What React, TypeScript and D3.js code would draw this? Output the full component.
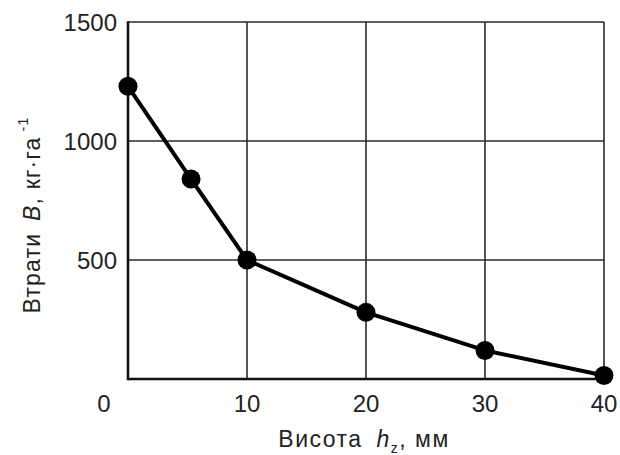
import React, { useEffect, useRef } from 'react';
import * as d3 from 'd3';

// Height of the element, mm
const heights = [0, 5.3, 10, 20, 30, 40];
// Losses B, kg/ha
const losses = [1230, 840, 500, 280, 120, 15];

const xTicks = [0, 10, 20, 30, 40];
const yTicks = [500, 1000, 1500];

const FONT = "Arial, 'Liberation Sans', sans-serif";

const App = () => {
    const ref = useRef<SVGSVGElement | null>(null);

    useEffect(() => {
        const svg = d3.select(ref.current);
        svg.selectAll('*').remove();

        const width = 620;
        const height = 455;
        const margin = { top: 22, right: 16, bottom: 76, left: 128 };

        const x = d3.scaleLinear().domain([0, 40]).range([margin.left, width - margin.right]);
        const y = d3.scaleLinear().domain([0, 1500]).range([height - margin.bottom, margin.top]);

        const g = svg.append('g');

        // grid
        g.selectAll('.vgrid')
            .data(xTicks.filter(d => d > 0))
            .enter()
            .append('line')
            .attr('x1', d => x(d))
            .attr('x2', d => x(d))
            .attr('y1', y(0))
            .attr('y2', y(1500))
            .attr('stroke', '#2a2a2a')
            .attr('stroke-width', 1.6);

        g.selectAll('.hgrid')
            .data(yTicks)
            .enter()
            .append('line')
            .attr('x1', x(0))
            .attr('x2', x(40))
            .attr('y1', d => y(d))
            .attr('y2', d => y(d))
            .attr('stroke', '#2a2a2a')
            .attr('stroke-width', 1.6);

        // left and bottom axes are thicker
        g.append('line')
            .attr('x1', x(0)).attr('x2', x(0))
            .attr('y1', y(0) + 1.3).attr('y2', y(1500) - 0.8)
            .attr('stroke', '#111').attr('stroke-width', 2.6);
        g.append('line')
            .attr('x1', x(0)).attr('x2', x(40) + 0.8)
            .attr('y1', y(0)).attr('y2', y(0))
            .attr('stroke', '#111').attr('stroke-width', 2.6);

        // tick labels
        g.selectAll('.ylab')
            .data(yTicks)
            .enter()
            .append('text')
            .attr('x', x(0) - 11)
            .attr('y', d => y(d))
            .attr('dy', '0.36em')
            .attr('text-anchor', 'end')
            .style('font-family', FONT)
            .style('font-size', '24px')
            .style('fill', '#222')
            .text(d => d);

        g.selectAll('.xlab')
            .data(xTicks)
            .enter()
            .append('text')
            .attr('x', d => (d === 0 ? x(d) - 24 : x(d)))
            .attr('y', y(0) + 24)
            .attr('dy', '0.36em')
            .attr('text-anchor', 'middle')
            .style('font-family', FONT)
            .style('font-size', '24px')
            .style('fill', '#222')
            .text(d => d);

        // data
        const line = d3.line<number>()
            .x((d, i) => x(heights[i]))
            .y(d => y(d));

        g.append('path')
            .datum(losses)
            .attr('d', line)
            .attr('fill', 'none')
            .attr('stroke', '#000')
            .attr('stroke-width', 4)
            .attr('stroke-linejoin', 'round');

        g.selectAll('.dot')
            .data(losses)
            .enter()
            .append('circle')
            .attr('cx', (d, i) => x(heights[i]))
            .attr('cy', d => y(d))
            .attr('r', 9.5)
            .attr('fill', '#000');

        // x axis title
        const xt = g.append('text')
            .attr('x', 364)
            .attr('y', 447)
            .attr('text-anchor', 'middle')
            .style('font-family', FONT)
            .style('font-size', '23px')
            .style('letter-spacing', '1.5px')
            .style('fill', '#222');
        xt.append('tspan').text('Висота ');
        xt.append('tspan').style('font-style', 'italic').attr('dx', 6).text('h');
        xt.append('tspan').style('font-size', '14px').attr('dy', 6).text('z');
        xt.append('tspan').attr('dy', -6).text(', мм');

        // y axis title
        const yt = g.append('text')
            .attr('transform', `translate(40, 215) rotate(-90)`)
            .attr('text-anchor', 'middle')
            .style('font-family', FONT)
            .style('font-size', '23px')
            .style('letter-spacing', '1.2px')
            .style('fill', '#222');
        yt.append('tspan').text('Втрати ');
        yt.append('tspan').style('font-style', 'italic').attr('dx', 4).text('B');
        yt.append('tspan').text(', кг·га');
        yt.append('tspan').style('font-size', '14px').attr('dy', -12).text(' -1');
    }, []);

    return (
        <svg
            ref={ref}
            width={620}
            height={455}
            style={{ position: 'absolute', left: 0, top: 0, background: '#fff' }}
        />
    );
};

export default App;
